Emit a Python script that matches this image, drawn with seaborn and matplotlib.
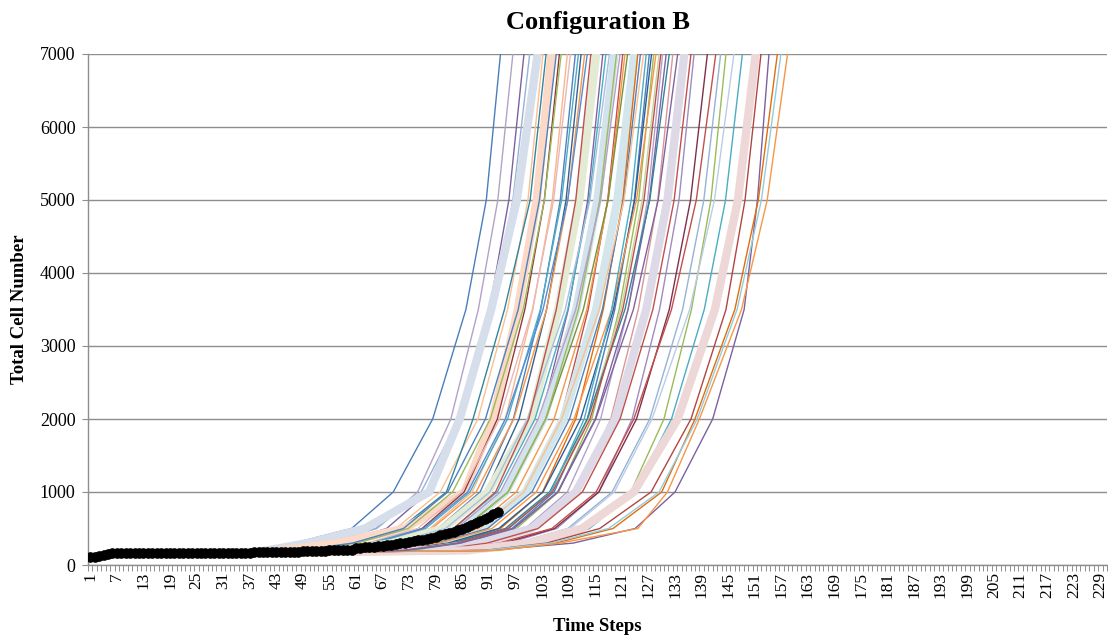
import matplotlib
matplotlib.use("Agg")
import numpy as np
import pandas as pd
import seaborn as sns
import matplotlib.pyplot as plt

# ---------------- data ----------------
# shared early part of every run: (time step, cells)
START_STEPS = [1, 3, 5, 20, 37]
START_CELLS = [110, 125, 150, 160, 165]

# cell-count levels and, for each run, the time step at which it reaches them
LEVELS = [200, 300, 500, 1000, 2000, 3500, 5000, 7000]

T200 = [40, 43.4, 45.9, 42.2, 41, 48, 50, 44, 53.9, 49.3, 55.7, 51.4, 57.5, 53.2, 58.8, 54.6, 51.2, 57.2, 63.7, 59.4,
        56.2, 61.3, 68.2, 63.7, 60.3, 65.8, 71.6, 67.2, 63.9, 74.2, 69.7, 75.2, 66.7, 71.4, 77.2, 73.0, 69.7, 79.5, 77.1, 78.6,
        84.3, 82.3, 80.2, 85.3, 91.5, 84.3, 90.2, 86, 90, 91, 92, 90, 93, 48.2, 61.0, 61.8, 58.6, 73.5, 71.8, 71.6]
T300 = [47, 54.4, 56.9, 54.2, 50, 59, 60, 57, 64.9, 61.3, 66.7, 63.4, 68.5, 65.2, 69.8, 66.6, 64.2, 69.2, 74.7, 71.4,
        69.2, 73.3, 79.2, 75.7, 73.3, 77.8, 82.6, 79.2, 76.9, 85.2, 81.7, 86.2, 79.7, 83.4, 88.2, 85.0, 82.7, 90.5, 89.1, 90.6,
        95.3, 94.3, 93.2, 97.3, 102.5, 97.3, 102.2, 100, 104, 110, 106, 105, 107, 60.2, 72.0, 73.8, 71.6, 84.5, 83.8, 84.6]
T500 = [60, 65.4, 67.9, 65.7, 63, 70, 71, 72, 75.9, 72.8, 77.7, 74.9, 79.5, 76.7, 80.8, 78.1, 76.2, 80.7, 85.7, 82.9,
        81.2, 84.8, 90.2, 87.2, 85.3, 89.3, 93.6, 90.7, 88.9, 96.2, 93.2, 97.2, 91.7, 94.9, 99.2, 96.5, 94.7, 101.5, 100.6, 102.1,
        106.3, 105.8, 105.2, 108.8, 113.5, 109.3, 113.7, 112, 116, 124, 119, 118, 124.6, 71.7, 83.0, 85.3, 83.6, 95.5, 95.3, 96.6]
T1000 = [69.4, 74.9, 77.4, 75.7, 77.5, 80.0, 81.4, 85.5, 85.4, 82.8, 87.2, 84.9, 89.0, 86.7, 90.3, 88.1, 86.2, 90.7, 95.2, 92.9,
         91.2, 94.8, 99.7, 97.2, 95.3, 99.3, 103.1, 100.7, 98.9, 105.7, 103.2, 106.7, 101.7, 104.9, 108.7, 106.5, 104.7, 111.0, 110.6, 112.1,
         115.8, 115.8, 115.2, 118.8, 123.0, 119.3, 123.7, 123.7, 127.6, 133.0, 130.0, 129.4, 131.3, 81.7, 92.5, 95.3, 93.6, 105.0, 105.3, 106.6]
T2000 = [78.3, 82.4, 84.9, 84.2, 84.4, 88.5, 87.4, 91.9, 92.9, 91.3, 94.7, 93.4, 96.5, 95.2, 97.8, 96.6, 94.7, 100.5, 102.7, 101.4,
         99.7, 103.3, 107.2, 105.7, 103.8, 107.8, 110.6, 109.2, 107.4, 113.2, 111.7, 114.2, 110.2, 113.4, 116.2, 115.0, 113.2, 118.5, 119.5, 120.6,
         123.3, 124.3, 123.7, 127.3, 130.5, 127.8, 132.2, 133.6, 136.6, 141.5, 137.5, 138.0, 138.5, 90.2, 100.0, 103.8, 102.1, 112.5, 113.8, 115.1]
T3500 = [85.8, 88.6, 91.1, 91.6, 91.5, 95.2, 94.5, 97.5, 99.1, 98.7, 100.9, 100.8, 102.7, 102.6, 104.0, 104.0, 103.2, 106.6, 108.9, 108.8,
         108.2, 110.7, 113.4, 113.1, 112.3, 115.2, 116.8, 116.6, 115.9, 119.4, 119.1, 120.4, 118.7, 120.8, 122.4, 122.4, 121.7, 124.7, 126.5, 128.0,
         129.5, 131.7, 132.2, 134.7, 136.7, 136.3, 139.6, 142.0, 144.5, 148.6, 146.5, 147.0, 148.0, 97.6, 106.2, 111.2, 110.6, 118.7, 121.2, 123.6]
T5000 = [90.4, 93.0, 95.5, 96.4, 97.3, 99.8, 100.3, 101.8, 103.5, 103.5, 105.3, 105.6, 107.1, 107.4, 108.4, 108.8, 108.8, 111.4, 113.3, 113.6,
         113.8, 115.5, 117.8, 117.9, 117.9, 120.0, 121.2, 121.4, 121.5, 123.8, 123.9, 124.8, 124.3, 125.6, 126.8, 127.2, 127.3, 129.1, 131.3, 132.8,
         133.9, 136.5, 137.8, 139.5, 141.1, 141.9, 144.4, 147.2, 148.8, 151.6, 151.8, 152.5, 153.8, 102.4, 110.6, 116.0, 116.2, 123.1, 126.0, 129.2]
T7000 = [93.6, 96.4, 98.9, 100.2, 102.0, 103.2, 103.9, 105.1, 106.9, 107.3, 108.7, 109.4, 110.5, 111.2, 111.8, 112.6, 113.2, 115.2, 116.7, 117.4,
         118.2, 119.3, 121.2, 121.7, 122.3, 123.8, 124.6, 125.2, 125.9, 127.2, 127.7, 128.2, 128.7, 129.4, 130.2, 131.0, 131.7, 132.5, 135.1, 136.6,
         137.3, 140.3, 142.2, 143.3, 144.5, 146.3, 148.2, 151.2, 152.4, 154.2, 156.1, 156.9, 158.4, 106.2, 114.0, 119.8, 120.6, 126.5, 129.8, 133.6]

# highlighted run (black, with markers), one value per time step 1..93
BLACK = [110, 112, 118, 135, 150, 158, 160, 160, 160, 161, 161, 161, 161, 162, 162, 162, 162, 162, 162, 162,
         163, 163, 163, 163, 163, 163, 163, 164, 164, 164, 164, 164, 164, 165, 165, 165, 166,
         178, 180, 180, 181, 181, 182, 182, 183, 183, 184, 184, 185, 185, 186, 186, 188,
         198, 205, 206, 207, 208, 209, 210,
         228, 235, 240, 245, 250, 258, 265, 272, 280, 288,
         296, 305, 315, 325, 336, 348, 360, 375, 390, 405,
         422, 440, 458, 478, 500, 522, 548, 575, 602, 630, 660, 692, 725]

N_STEPS = 230
XTICK_LABELS = list(range(1, N_STEPS, 6))
YTICKS = [0, 1000, 2000, 3000, 4000, 5000, 6000, 7000]

# ---------------- styles ----------------
COLORS = ["#4A7EBB", "#B3A2C7", "#7D60A0", "#95B3D7", "#D6DDEB", "#FAC090", "#31859C", "#FBD9C6", "#953735", "#9BBB59",
          "#FCB58A", "#E6B9B8", "#4F81BD", "#4BACC6", "#376092", "#F79646", "#558ED5", "#E3EBD5", "#8064A2", "#4BACC6",
          "#A7C0DE", "#D3E3EE", "#C0504D", "#F79646", "#77933C", "#D2E6EC", "#E46C0A", "#4F81BD", "#FAC090", "#4A7EBB",
          "#2C5D9A", "#9BBB59", "#F79646", "#C3D69B", "#B3A2C7", "#8064A2", "#31859C", "#D99694", "#DDD9E7", "#C0504D",
          "#9F8CC0", "#7F2F4A", "#C0504D", "#95B3D7", "#9BBB59", "#B9CDE5", "#4BACC6", "#EDD8D7", "#B04643", "#7D60A0",
          "#E46C0A", "#93CDDD", "#F79646", "#4F81BD", "#C0504D", "#9BBB59", "#B3A2C7", "#4BACC6", "#C0504D", "#8064A2"]
THICK = {4, 7, 17, 21, 25, 38, 47}
GRID = "#8E8E8E"

sns.set_theme(style="white")
plt.rcParams['font.family'] = ['Liberation Serif', 'DejaVu Serif']
plt.rcParams['text.color'] = 'black'
plt.rcParams['axes.labelcolor'] = 'black'
plt.rcParams['xtick.color'] = 'black'
plt.rcParams['ytick.color'] = 'black'

fig, ax = plt.subplots(figsize=(11.08, 6.4), dpi=100)
fig.subplots_adjust(left=88/1108, right=1107/1108, bottom=1-565/640, top=1-54/640)

level_arrays = [T200, T300, T500, T1000, T2000, T3500, T5000, T7000]
n_runs = len(T7000)
for i in range(n_runs):
    steps = START_STEPS + [arr[i] for arr in level_arrays]
    cells = START_CELLS + LEVELS
    df = pd.DataFrame({"step": steps, "cells": cells})
    lw = 6.0 if i in THICK else 1.0
    sns.lineplot(data=df, x="step", y="cells", ax=ax, color=COLORS[i], linewidth=lw,
                 sort=False, estimator=None, legend=False, zorder=2)

black_df = pd.DataFrame({"step": np.arange(1, len(BLACK) + 1), "cells": BLACK})
sns.lineplot(data=black_df, x="step", y="cells", ax=ax, color="black", linewidth=3,
             marker="o", markersize=7, markeredgecolor="black", markeredgewidth=0.5,
             sort=False, estimator=None, legend=False, zorder=3)

ax.set_xlim(0.5, N_STEPS + 0.5)
ax.set_ylim(0, 7000)
ax.set_yticks(YTICKS)
ax.set_yticklabels([str(v) for v in YTICKS])
ax.set_xticks(XTICK_LABELS)
ax.set_xticklabels([str(v) for v in XTICK_LABELS], rotation=90)
ax.set_xticks(np.arange(0.5, N_STEPS + 1, 1), minor=True)

ax.yaxis.grid(True, color=GRID, linewidth=1.0)
ax.xaxis.grid(False)
ax.set_axisbelow(True)
for s in ["top", "right"]:
    ax.spines[s].set_visible(False)
for s in ["left", "bottom"]:
    ax.spines[s].set_color(GRID)
    ax.spines[s].set_linewidth(1.0)

ax.tick_params(axis="x", which="major", length=0, pad=5, labelsize=12.5, labelcolor="black")
ax.tick_params(axis="x", which="minor", length=4, width=0.7, color=GRID, direction="out", bottom=True)
ax.tick_params(axis="y", which="major", length=4, width=0.8, color=GRID, direction="out", left=True,
               pad=5, labelsize=13, labelcolor="black")

ax.set_title("Configuration B", fontsize=19, fontweight="bold", pad=18, color="black")
ax.set_xlabel("Time Steps", fontsize=13.5, fontweight="bold", color="black")
ax.set_ylabel("Total Cell Number", fontsize=13.5, fontweight="bold", color="black")
ax.xaxis.set_label_coords(0.5, (565 - 618) / 511)
ax.yaxis.set_label_coords((28 - 88) / 1020, 0.5)

fig.savefig("out.png", dpi=100, facecolor="white")
